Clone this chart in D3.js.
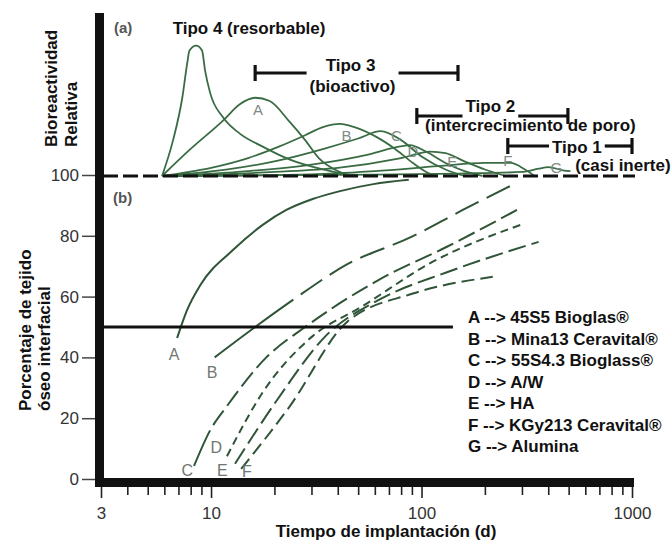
<!DOCTYPE html>
<html>
<head>
<meta charset="utf-8">
<script src="https://cdn.jsdelivr.net/npm/d3@7"></script>
<style>
body { margin: 0; background: #fff; }
text { font-family: "Liberation Sans", Arial, sans-serif; }
</style>
</head>
<body>
<svg id="chart" width="672" height="545"></svg>
<script>
// (a) bioreactividad relativa: [tiempo (d), valor sobre la linea base]
const topTipo4 = [[5.85,0],[6.6,22],[7.3,48],[7.7,69],[7.9,77],[8.5,80],[9.06,77],[9.36,65],[9.9,51],[11.4,36],[13.7,26],[17.6,18],[23.7,10],[34,4],[42,1.5],[50,0]];
const topA = [[5.85,0],[7.9,16],[11.4,34],[13.7,44],[16.2,48],[19,46],[23.7,33],[28,22],[32.5,11],[40,3],[46,0]];
const topB = [[5.85,0],[10,5],[15,11],[21,18],[28,25],[34,30],[41,32],[48,30],[61,24],[76,16],[91,8],[107,2],[117,0]];
const topC = [[5.9,0],[12,4],[20,9],[35,17],[50,23],[64,27.5],[80,22],[100,12],[130,4],[160,0]];
const topD = [[6,0],[15,3],[30,7],[55,13],[75,17.5],[88,19],[105,15],[130,8],[160,3],[195,0]];
const topE = [[6,0],[20,2.5],[40,5],[80,11],[110,15],[130,14],[160,9],[200,4],[250,0]];
const topF = [[6,0],[30,1],[60,3],[120,6],[200,8],[265,8],[310,4],[345,0]];
const topG = [[6,0],[60,0.8],[150,1.5],[300,2.5],[360,4.5],[400,5.5],[470,3.5],[510,3]];
const topLabels = [["A",16.7,40.5],["B",44,24.5],["C",76,25],["D",91,14.7],["E",140,8.6],["F",257,9.2],["G",437,4.9]];

// (b) porcentaje de tejido oseo interfacial
const botA = [[6.9,46.4],[7.7,55.6],[8.9,63.8],[12.7,75.3],[17.6,83.6],[22.8,88.5],[30.4,92.1],[41,94.7],[59,97],[87,98.4]];
const botB = [[10.4,40],[16.2,50],[24.6,59],[44,70.5],[90,79.7],[157,88.5],[270,96.7]];
const botC = [[8.3,4.3],[9.9,16],[11.9,24],[18.3,40],[28,50],[63,65.6],[132,76.4],[293,89]];
const botD = [[11.9,7.5],[17.6,28.5],[30.4,47],[52,56.7],[110,71],[307,84]];
const botE = [[13,5],[20.6,26],[35,47],[63,59],[132,68],[360,78]];
const botF = [[13.9,3.3],[23.7,24],[44,51.5],[91,61],[218,66.5]];
const botLabels = [["A",6.67,41],["B",10.1,35],["C",7.7,3],["D",10.6,10.5],["E",11.3,3],["F",14.8,2.6]];

const tipoNames = ["Tipo 3", "Tipo 2", "Tipo 1"];
const tipoSubs = ["(bioactivo)", "(intercrecimiento de poro)", "(casi inerte)"];
const tipoFrom = [16.2, 95, 257];
const tipoTo = [149, 496, 1000];

const legendKeys = ["A","B","C","D","E","F","G"];
const legendNames = ["45S5 Bioglas®","Mina13 Ceravital®","55S4.3 Bioglass®","A/W","HA","KGy213 Ceravital®","Alumina"];

const xMajor = [3, 10, 100, 1000];
const xMinor = [4,5,6,7,8,9,20,30,40,50,60,70,80,90,200,300,400,500,600,700,800,900];
const yTicks = [0, 20, 40, 60, 80, 100];

let x = d3.scaleLog().domain([3, 1000]).range([101, 632]);
let yA = d3.scaleLinear().domain([0, 100]).range([176, 13]);
let yB = d3.scaleLinear().domain([0, 100]).range([479, 175]);

let svg = d3.select("#chart");
const green = "#3a6c44";

let lineTop = d3.line().x(d => x(d[0])).y(d => yA(d[1])).curve(d3.curveMonotoneX);
let lineBot = d3.line().x(d => x(d[0])).y(d => yB(d[1])).curve(d3.curveMonotoneX);

// top curves
svg.append("g").selectAll("path")
	.data([topTipo4, topA, topB, topC, topD, topE, topF, topG])
	.enter().append("path")
	.attr("d", lineTop)
	.attr("fill", "none")
	.attr("stroke", green)
	.attr("stroke-width", 1.8);

// baseline 100
svg.append("line")
	.attr("x1", 103).attr("x2", 635)
	.attr("y1", yA(0)).attr("y2", yA(0))
	.attr("stroke", "#111").attr("stroke-width", 3)
	.attr("stroke-dasharray", "15,5");

svg.append("g").selectAll("text")
	.data(topLabels).enter().append("text")
	.attr("x", d => x(d[1])).attr("y", d => yA(d[2]))
	.attr("dy", "0.36em")
	.attr("text-anchor", "middle")
	.attr("font-size", 15)
	.attr("fill", "#7f8b83")
	.text(d => d[0]);

// bottom curves: [data, solid until t, dash pattern]
let botSeries = [
	[botA, null, null],
	[botB, 24.6, [26, 9]],
	[botC, 9.9, [18, 6]],
	[botD, null, [8, 5]],
	[botE, null, [18, 6]],
	[botF, null, [13, 6]]
];

botSeries.forEach(s => {
	let path = svg.append("path")
		.attr("d", lineBot(s[0]))
		.attr("fill", "none")
		.attr("stroke", "#2f5437")
		.attr("stroke-width", 2);
	if (s[2] == null) return;
	let total = path.node().getTotalLength();
	let dash = [];
	if (s[1] != null) {
		// solid first part, then dashes
		let tmp = svg.append("path").attr("d", lineBot(s[0].filter(p => p[0] <= s[1])));
		dash.push(tmp.node().getTotalLength());
		tmp.remove();
		dash.push(s[2][1]);
	}
	let len = d3.sum(dash);
	while (len < total + 40) {
		dash.push(s[2][0], s[2][1]);
		len += s[2][0] + s[2][1];
	}
	path.attr("stroke-dasharray", dash.join(","));
});

// 50% line
svg.append("line")
	.attr("x1", 103).attr("x2", x(141))
	.attr("y1", yB(50)).attr("y2", yB(50))
	.attr("stroke", "#111").attr("stroke-width", 3);

svg.append("g").selectAll("text")
	.data(botLabels).enter().append("text")
	.attr("x", d => x(d[1])).attr("y", d => yB(d[2]))
	.attr("dy", "0.36em")
	.attr("text-anchor", "middle")
	.attr("font-size", 16)
	.attr("fill", "#6f7772")
	.text(d => d[0]);

// Tipo bars
let tipoLayout = [
	{ barY: 73, titleY: 71, subY: 92, titleDx: -6, subDx: -4 },
	{ barY: 116, titleY: 112, subY: 131, titleDx: -2, subDx: 38 },
	{ barY: 146, titleY: 153, subY: 171, titleDx: 7, subDx: 53 }
];

tipoNames.forEach((name, i) => {
	let L = tipoLayout[i];
	let x1 = x(tipoFrom[i]), x2 = x(tipoTo[i]);
	let cx = (x1 + x2) / 2;
	let t = svg.append("text")
		.attr("x", cx + L.titleDx).attr("y", L.titleY)
		.attr("text-anchor", "middle")
		.attr("font-size", 17).attr("font-weight", "bold")
		.attr("fill", "#111")
		.text(name);
	let s = svg.append("text")
		.attr("x", cx + L.subDx).attr("y", L.subY)
		.attr("text-anchor", "middle")
		.attr("font-size", 17).attr("font-weight", "bold")
		.attr("fill", "#111")
		.text(tipoSubs[i]);
	let gapNode = i == 0 ? s : t;
	let gapW = gapNode.node().getComputedTextLength();
	let gapC = +gapNode.attr("x");
	let bar = svg.append("g").attr("stroke", "#111").attr("stroke-width", 3.2);
	bar.append("line").attr("x1", x1).attr("x2", gapC - gapW / 2 - 3).attr("y1", L.barY).attr("y2", L.barY);
	bar.append("line").attr("x1", gapC + gapW / 2 + 3).attr("x2", x2).attr("y1", L.barY).attr("y2", L.barY);
	bar.append("line").attr("x1", x1).attr("x2", x1).attr("y1", L.barY - 8).attr("y2", L.barY + 8);
	bar.append("line").attr("x1", x2).attr("x2", x2).attr("y1", L.barY - 8).attr("y2", L.barY + 8);
});

svg.append("text").attr("x", 114).attr("y", 33)
	.attr("font-size", 15).attr("font-weight", "bold").attr("fill", "#555").text("(a)");
svg.append("text").attr("x", 113).attr("y", 203)
	.attr("font-size", 15).attr("font-weight", "bold").attr("fill", "#555").text("(b)");

svg.append("text").attr("x", 249).attr("y", 34)
	.attr("text-anchor", "middle")
	.attr("font-size", 17).attr("font-weight", "bold").attr("fill", "#111")
	.text("Tipo 4 (resorbable)");

// legend
svg.append("g").selectAll("text")
	.data(legendKeys).enter().append("text")
	.attr("x", 468).attr("y", (d, i) => 323 + i * 21.5)
	.attr("font-size", 17).attr("font-weight", "bold").attr("fill", "#111")
	.text((d, i) => d + " --> " + legendNames[i]);

// axes
let yAxis = svg.append("g").attr("transform", "translate(95,0)")
	.call(d3.axisLeft(yB).tickValues(yTicks).tickSize(13).tickPadding(3));
yAxis.select(".domain").remove();
yAxis.selectAll("line").attr("stroke", "#444").attr("stroke-width", 1.5);
yAxis.selectAll("text").attr("font-size", 17).attr("fill", "#333").attr("font-family", "Liberation Sans, Arial, sans-serif");

let xMinorAxis = svg.append("g").attr("transform", "translate(0,486)")
	.call(d3.axisBottom(x).tickValues(xMinor).tickSize(9).tickFormat(""));
xMinorAxis.select(".domain").remove();
xMinorAxis.selectAll("line").attr("stroke", "#222").attr("stroke-width", 1.6);

let xAxis = svg.append("g").attr("transform", "translate(0,486)")
	.call(d3.axisBottom(x).tickValues(xMajor).tickSize(12).tickPadding(9).tickFormat(d3.format("d")));
xAxis.select(".domain").remove();
xAxis.selectAll("line").attr("stroke", "#222").attr("stroke-width", 1.6);
xAxis.selectAll("text").attr("font-size", 17).attr("fill", "#333").attr("font-family", "Liberation Sans, Arial, sans-serif");

svg.append("line").attr("x1", 99.5).attr("x2", 99.5).attr("y1", 13).attr("y2", 487)
	.attr("stroke", "#111").attr("stroke-width", 9);
svg.append("line").attr("x1", 95).attr("x2", 634).attr("y1", 482.5).attr("y2", 482.5)
	.attr("stroke", "#111").attr("stroke-width", 9);

// axis titles
svg.append("text").attr("x", 386).attr("y", 537)
	.attr("text-anchor", "middle")
	.attr("font-size", 17).attr("font-weight", "bold").attr("fill", "#111")
	.text("Tiempo de implantación (d)");

function vTitle(tx, ty, txt) {
	svg.append("text")
		.attr("transform", "translate(" + tx + "," + ty + ") rotate(-90)")
		.attr("font-size", 17).attr("font-weight", "bold").attr("fill", "#111")
		.text(txt);
}
vTitle(57, 147, "Bioreactividad");
vTitle(77, 147, "Relativa");
vTitle(31, 411, "Porcentaje de tejido");
vTitle(50, 411, "óseo interfacial");
</script>
</body>
</html>
